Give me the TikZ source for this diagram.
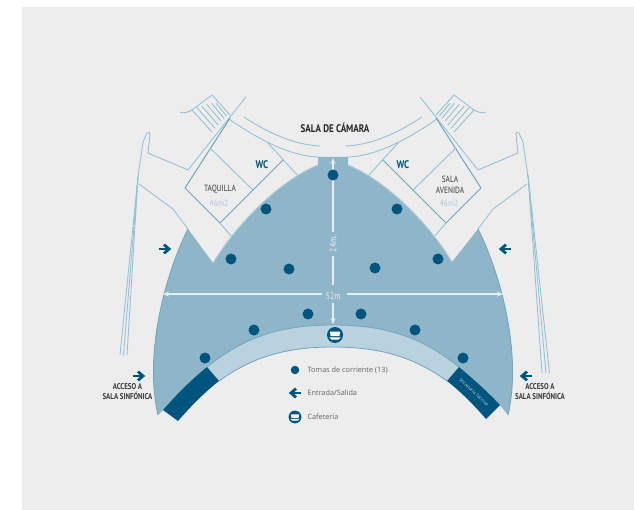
\documentclass[tikz,border=0pt]{standalone}
\usepackage{fontspec}
\setmainfont{Open Sans}
\newfontfamily\labelfont[FakeStretch=0.82]{PT Sans}
\usetikzlibrary{arrows.meta}
\definecolor{bgc}{HTML}{EDEDED}
\definecolor{fillc}{HTML}{8FB6C8}
\definecolor{bandc}{HTML}{B9D2DD}
\definecolor{edgec}{HTML}{6FA5BD}
\definecolor{paleedge}{HTML}{AFCCD9}
\definecolor{darkc}{HTML}{00557F}
\definecolor{linec}{HTML}{93BFD2}
\definecolor{roomc}{HTML}{6FA6BF}
\definecolor{textc}{HTML}{3A3A3A}
\definecolor{legc}{HTML}{5E6468}
\definecolor{m2c}{HTML}{A5C6D5}
\definecolor{measc}{HTML}{E4EEF2}
\tikzset{
  plan/.style={draw=linec,line width=.85pt,line join=round},
  room/.style={draw=roomc,line width=1pt,line join=round},
  measure/.style={draw=measc,line width=1.1pt},
  dotm/.style={circle,fill=darkc,inner sep=0pt,minimum size=11pt},
  title/.style={font=\labelfont\bfseries\fontsize{11}{12}\selectfont,text=black!85},
  access/.style={font=\labelfont\bfseries\fontsize{8.4}{10}\selectfont,text=textc,align=center},
  roomlabel/.style={font=\labelfont\fontsize{9}{11.5}\selectfont,text=textc,align=center},
  areal/.style={font=\labelfont\fontsize{9}{11}\selectfont,text=m2c},
  wc/.style={font=\labelfont\bfseries\fontsize{11}{12}\selectfont,text=darkc},
  legend/.style={font=\fontsize{7.3}{8}\selectfont,text=legc,anchor=west},
  meas/.style={font=\labelfont\fontsize{9.5}{10}\selectfont,text=measc},
  arrowicon/.pic={
    \draw[darkc,line width=2.8pt] (-6,0) -- (4,0);
    \draw[darkc,line width=2.8pt] (-1,-4.4) -- (4,0) -- (-1,4.4);
  },
  cupicon/.pic={
    \fill[darkc] (0,0) circle (8);
    \fill[white] (-5.2,-3.4) -- (5.2,-3.4) -- (4.4,1) -- (-4.4,1) -- cycle;
    \fill[white] (-5.8,2.3) -- (5.8,2.3) -- (3.5,4.6) -- (-3.5,4.6) -- cycle;
  }
}
\newcommand{\wingside}{
  % stairs
  \draw[plan] (180,112) .. controls (184,114) and (188,112) .. (192,110) -- (212,95) -- (230,115);
  \draw[plan] (192,110) -- (212,132);
  \draw[plan] (196.7,107.3) -- (215,128.3);
  \draw[plan] (201.7,106) -- (218.3,125);
  \draw[plan] (206.7,104.3) -- (220.7,120.7);
  \draw[plan] (211.7,103.3) -- (224,118.3);
  \draw[plan] (216,103.3) -- (226.7,116);
  % corridor wall and outer wing
  \draw[plan] (246,97) -- (188,170) -- (148,153) -- (149.5,139) .. controls (150,132) and (151,132) .. (147,133) -- (143,142) -- (138,177);
  \draw[plan] (139,184) -- (173,209) -- (188,229);
  % room walls
  \draw[room] (230,118) -- (185,188) -- (220,223) -- (283,160);
  \draw[plan] (210,148) -- (253,190);
  \draw[plan] (268,143) -- (298,176);
  \draw[plan] (220,223) -- (232,237);
}
\begin{document}
\begin{tikzpicture}[x=1pt,y=-1pt]
\useasboundingbox (0,0) rectangle (634,510);
\fill[white] (0,0) rectangle (634,510);
\fill[bgc] (22,7) rectangle (634,510);

% arcs of the hall above
\draw[plan] (244,117) .. controls (268,133) and (295,145) .. (320,146);
\draw[plan] (422,117) .. controls (398,133) and (371,145) .. (346,146);
\draw[plan] (229,119) .. controls (262,142) and (292,156) .. (318,157);
\draw[plan] (437,119) .. controls (404,142) and (374,156) .. (348,157);

\wingside
\begin{scope}[xshift=666pt,xscale=-1]
\wingside
\end{scope}

% triple lines
\draw[plan] (138,177) -- (120,355);
\draw[plan] (138,177) -- (123.5,355);
\draw[plan] (138,177) -- (127,355);
\draw[plan] (528,175) -- (542,373);
\draw[plan] (528,175) -- (546,373);
\draw[plan] (528,175) -- (549.5,373);

% hall
\fill[fillc] (318,157) -- (348,157) -- (348,165)
  .. controls (385,180) and (428,222) .. (452,262)
  -- (478,229)
  .. controls (498,268) and (523,350) .. (508,415)
  -- (500,405)
  .. controls (487,391) and (472,378) .. (459,367)
  .. controls (424,339) and (389,311+14) .. (333,325)
  .. controls (277,325) and (242,339) .. (207,367)
  .. controls (192,379) and (177,394) .. (163,410)
  -- (158,415)
  .. controls (143,350) and (168,268) .. (188,229)
  -- (213,263)
  .. controls (238,222) and (281,180) .. (318,165)
  -- cycle;
\draw[paleedge,line width=1pt] (348,165) .. controls (385,180) and (428,222) .. (452,262);
\draw[paleedge,line width=1pt] (213,263) .. controls (238,222) and (281,180) .. (318,165);
\draw[edgec,line width=.8pt] (478,229) .. controls (498,268) and (523,350) .. (508,415);
\draw[edgec,line width=.8pt] (158,415) .. controls (143,350) and (168,268) .. (188,229);

% band
\fill[bandc] (207,367) .. controls (242,339) and (277,325) .. (333,325)
  .. controls (389,325) and (424,339) .. (459,367)
  -- (447,381)
  .. controls (415,358) and (382,347) .. (333,347)
  .. controls (284,347) and (251,358) .. (219,381) -- cycle;
\draw[edgec,line width=.8pt] (207,367) .. controls (242,339) and (277,325) .. (333,325)
  .. controls (389,325) and (424,339) .. (459,367);
\draw[edgec,line width=.8pt] (447,381) .. controls (415,358) and (382,347) .. (333,347)
  .. controls (284,347) and (251,358) .. (219,381);

% dark blocks
\fill[darkc] (163,410) .. controls (177,394) and (192,379) .. (207,367) -- (219,381)
  .. controls (205,392) and (191,406) .. (178,421) -- cycle;
\fill[darkc] (500,405) .. controls (487,391) and (472,378) .. (459,367) -- (447,381)
  .. controls (461,392) and (474,405) .. (486,419) -- cycle;
\node[font=\fontsize{4.6}{5}\selectfont,text=bandc,rotate=-43,inner sep=0pt] (secr) at (474,392) {Secretaría Técnica};

% measures
\coordinate (vt) at (333,158); \coordinate (vm) at (333,232);
\coordinate (vn) at (333,256); \coordinate (ve) at (333,285);
\coordinate (vs) at (333,303); \coordinate (vb) at (333,324);
\coordinate (hl) at (163,294); \coordinate (hm) at (322,294);
\coordinate (hn) at (347,294); \coordinate (hr) at (503,294);
\draw[measure,{Stealth[length=6pt,width=5pt]}-] (vt) -- (vm);
\draw[measure] (vn) -- (ve);
\draw[measure,-{Stealth[length=6pt,width=5pt]}] (vs) -- (vb);
\draw[measure,{Stealth[length=6pt,width=5pt]}-] (hl) -- (hm);
\draw[measure,-{Stealth[length=6pt,width=5pt]}] (hn) -- (hr);
\node[meas,rotate=90,inner sep=0pt] (m24) at (333,244) {24m.};
\node[meas,inner sep=0pt] (m52) at (334,296) {52m.};

% dots
\node[dotm] (d1) at (333,175) {};
\node[dotm] (d2) at (266,209) {};
\node[dotm] (d3) at (231,259) {};
\node[dotm] (d4) at (289,269) {};
\node[dotm] (d5) at (308,314) {};
\node[dotm] (d6) at (254,330) {};
\node[dotm] (d7) at (205,358) {};
\node[dotm] (d8) at (397,209) {};
\node[dotm] (d9) at (438,259) {};
\node[dotm] (d10) at (375,268) {};
\node[dotm] (d11) at (361,314) {};
\node[dotm] (d12) at (415,330) {};
\node[dotm] (d13) at (463,358) {};
\pic at (335,335) {cupicon};

% texts
\node[title] (sala) at (335,128) {SALA DE CÁMARA};
\node[wc] (wc1) at (262,165) {WC};
\node[wc] (wc2) at (403,165) {WC};
\node[roomlabel] (taq) at (220,189) {TAQUILLA};
\node[areal] (taqa) at (219,203) {46m2};
\node[roomlabel] (ave) at (450,185) {SALA\\AVENIDA};
\node[areal] (avea) at (449,203) {46m2};
\node[access] (accl) at (127.5,392) {ACCESO A\\SALA SINFÓNICA};
\node[access] (accr) at (540,392) {ACCESO A\\SALA SINFÓNICA};

% arrows
\pic at (165,249) {arrowicon};
\pic at (139,376) {arrowicon};
\pic[xscale=-1] at (505,249) {arrowicon};
\pic[xscale=-1] at (526,376) {arrowicon};

% legend
\node[dotm,minimum size=8.5pt] (l1) at (295,370) {};
\pic[xscale=-1] at (295,393) {arrowicon};
\pic[scale=.8] at (295,417) {cupicon};
\node[legend] (t1) at (304,370) {Tomas de corriente (13)};
\node[legend] (t2) at (304,393) {Entrada/Salida};
\node[legend] (t3) at (304,417) {Cafetería};
\end{tikzpicture}
\end{document}
